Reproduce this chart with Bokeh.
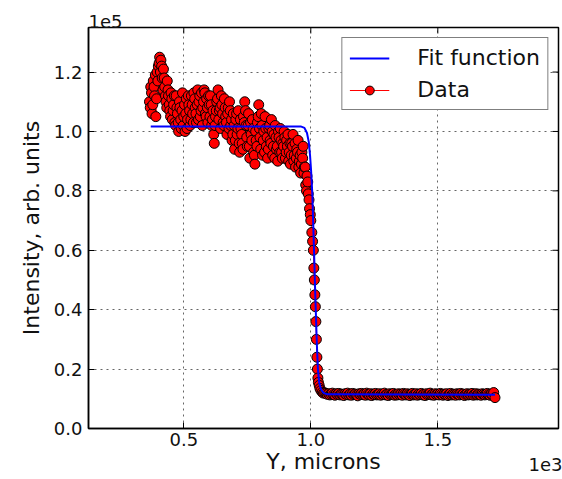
from bokeh.plotting import figure
from bokeh.models import (ColumnDataSource, Range1d, FixedTicker, CustomJSTickFormatter,
                          PrintfTickFormatter, Legend, LegendItem, Title)
from bokeh.embed import file_html
from bokeh.resources import INLINE
import math

# ---- data (x in microns, intensity in units of 1e5) ----
x_plateau = [365, 370, 375, 380, 385, 390, 395, 400, 405, 410, 415, 420, 425, 430, 435, 440,
             445, 450, 455, 460, 465, 470, 475, 480, 485, 490, 495, 500, 505, 510, 515, 520,
             525, 530, 535, 540, 545, 550, 555, 560, 565, 570, 575, 580, 585, 590, 595, 600,
             605, 610, 615, 620, 625, 630, 635, 640, 645, 650, 655, 660, 665, 670, 675, 680,
             685, 690, 695, 700, 705, 710, 715, 720, 725, 730, 735, 740, 745, 750, 755, 760,
             765, 770, 775, 780, 785, 790, 795, 800, 805, 810, 815, 820, 825, 830, 835, 840,
             845, 850, 855, 860, 865, 870, 875, 880, 885, 890, 895, 900, 905, 910, 915, 920,
             925, 930, 935, 940, 945, 950, 955, 960, 965, 970, 975, 980, 985, 990, 995, 1000]
y_plateau = [1.10, 1.15, 1.06, 1.17, 1.12, 1.05, 1.20, 1.22, 1.25, 1.24, 1.18, 1.21, 1.15, 1.10, 1.17, 1.12,
             1.07, 1.13, 1.04, 1.09, 1.03, 1.12, 1.06, 1.00, 1.08, 1.01, 1.13, 1.05, 1.00, 1.11, 1.04, 1.09,
             1.02, 1.12, 1.06, 1.13, 1.08, 1.03, 1.14, 1.10, 1.05, 1.13, 1.08, 1.14, 1.06, 1.11, 1.03, 1.09,
             1.12, 1.02, 1.07, 0.96, 1.05, 1.10, 1.14, 1.07, 1.01, 1.09, 1.03, 1.11, 1.05, 0.99, 1.08, 1.10,
             1.02, 0.97, 1.06, 0.94, 1.04, 0.99, 1.07, 0.93, 1.01, 0.96, 1.05, 1.10, 1.02, 0.95, 1.06, 0.91,
             0.99, 1.04, 0.93, 0.89, 0.97, 1.03, 1.09, 0.98, 1.06, 0.92, 1.00, 1.05, 0.95, 0.91, 1.01, 0.97,
             1.04, 0.92, 0.99, 1.02, 0.94, 0.90, 0.98, 1.01, 0.93, 0.96, 1.00, 0.91, 0.97, 0.99, 0.93, 0.89,
             0.96, 0.99, 0.92, 0.88, 0.94, 0.97, 0.90, 0.86, 0.93, 0.95, 0.88, 0.82, 0.85, 0.79, 0.74, 0.70]

x_plateau_b = [368, 373, 378, 383, 388, 393, 398, 403, 408, 413, 418, 423, 428, 433, 438, 443,
               448, 453, 458, 463, 468, 473, 478, 483, 488, 493, 498, 503, 508, 513, 518, 523,
               528, 533, 538, 543, 548, 553, 558, 563, 568, 573, 578, 583, 588, 593, 598, 603,
               608, 613, 618, 623, 628, 633, 638, 643, 648, 653, 658, 663, 668, 673, 678, 683,
               688, 693, 698, 703, 708, 713, 718, 723, 728, 733, 738, 743, 748, 753, 758, 763,
               768, 773, 778, 783, 788, 793, 798, 803, 808, 813, 818, 823, 828, 833, 838, 843,
               848, 853, 858, 863, 868, 873, 878, 883, 888, 893, 898, 903, 908, 913, 918, 923,
               928, 933, 938, 943, 948, 953, 958, 963, 968, 973, 978, 983, 988, 993, 998]
y_plateau_b = [1.08, 1.13, 1.09, 1.15, 1.19, 1.11, 1.17, 1.23, 1.20, 1.22, 1.14, 1.18, 1.12, 1.08, 1.14, 1.09,
               1.05, 1.11, 1.07, 1.12, 1.02, 1.08, 1.03, 1.10, 1.04, 1.07, 1.02, 1.09, 1.06, 1.01, 1.12, 1.07,
               1.04, 1.09, 1.03, 1.11, 1.06, 1.09, 1.04, 1.12, 1.07, 1.02, 1.10, 1.13, 1.05, 1.08, 1.12, 1.05,
               1.09, 1.04, 0.99, 1.02, 1.07, 1.11, 1.04, 1.08, 1.12, 1.06, 1.02, 1.08, 1.03, 1.06, 1.01, 1.07,
               1.04, 0.99, 1.02, 0.97, 1.06, 1.01, 0.96, 1.04, 0.99, 0.94, 1.03, 1.07, 0.98, 1.02, 0.95, 1.03,
               0.97, 1.01, 0.92, 1.00, 0.95, 1.05, 1.01, 0.94, 1.02, 0.97, 0.93, 1.01, 0.98, 0.94, 1.02, 0.96,
               1.00, 0.95, 0.91, 0.98, 0.95, 1.00, 0.93, 0.97, 0.91, 0.95, 0.98, 0.93, 0.95, 0.90, 0.96, 0.92,
               0.95, 0.90, 0.96, 0.91, 0.93, 0.88, 0.92, 0.89, 0.91, 0.86, 0.88, 0.80, 0.83, 0.77, 0.72]

x_drop = [1004, 1007, 1010, 1012, 1014, 1016, 1018, 1020, 1022, 1024, 1026, 1028, 1030, 1033,
          1036, 1040, 1045, 1050]
y_drop = [0.66, 0.63, 0.60, 0.54, 0.50, 0.45, 0.41, 0.36, 0.30, 0.24, 0.20, 0.17, 0.155, 0.145,
          0.135, 0.128, 0.122, 0.119]

x_floor = [1055, 1060, 1065, 1070, 1075, 1080, 1085, 1090, 1095, 1100, 1105, 1110, 1115, 1120, 1125,
           1130, 1135, 1140, 1145, 1150, 1155, 1160, 1165, 1170, 1175, 1180, 1185, 1190, 1195, 1200,
           1205, 1210, 1215, 1220, 1225, 1230, 1235, 1240, 1245, 1250, 1255, 1260, 1265, 1270, 1275,
           1280, 1285, 1290, 1295, 1300, 1305, 1310, 1315, 1320, 1325, 1330, 1335, 1340, 1345, 1350,
           1355, 1360, 1365, 1370, 1375, 1380, 1385, 1390, 1395, 1400, 1405, 1410, 1415, 1420, 1425,
           1430, 1435, 1440, 1445, 1450, 1455, 1460, 1465, 1470, 1475, 1480, 1485, 1490, 1495, 1500,
           1505, 1510, 1515, 1520, 1525, 1530, 1535, 1540, 1545, 1550, 1555, 1560, 1565, 1570, 1575,
           1580, 1585, 1590, 1595, 1600, 1605, 1610, 1615, 1620, 1625, 1630, 1635, 1640, 1645, 1650,
           1655, 1660, 1665, 1670, 1675, 1680, 1685, 1690, 1695, 1700, 1705, 1710, 1715, 1720, 1725]
y_floor = [0.120, 0.118, 0.115, 0.117, 0.113, 0.116, 0.119, 0.114, 0.112, 0.117, 0.115, 0.118, 0.113, 0.116, 0.114,
           0.111, 0.117, 0.115, 0.119, 0.113, 0.116, 0.112, 0.118, 0.114, 0.116, 0.113, 0.110, 0.117, 0.115, 0.118,
           0.114, 0.116, 0.112, 0.119, 0.115, 0.113, 0.117, 0.111, 0.116, 0.114, 0.118, 0.113, 0.115, 0.117, 0.112,
           0.116, 0.114, 0.119, 0.113, 0.115, 0.111, 0.117, 0.114, 0.116, 0.118, 0.112, 0.115, 0.113, 0.117, 0.114,
           0.116, 0.112, 0.118, 0.115, 0.113, 0.117, 0.114, 0.111, 0.116, 0.118, 0.113, 0.115, 0.117, 0.112, 0.116,
           0.114, 0.118, 0.113, 0.115, 0.111, 0.117, 0.114, 0.116, 0.119, 0.113, 0.115, 0.112, 0.117, 0.114, 0.116,
           0.113, 0.118, 0.115, 0.112, 0.116, 0.114, 0.117, 0.111, 0.115, 0.118, 0.113, 0.116, 0.114, 0.112, 0.117,
           0.115, 0.113, 0.118, 0.114, 0.116, 0.111, 0.115, 0.117, 0.113, 0.116, 0.114, 0.118, 0.112, 0.115, 0.117,
           0.113, 0.116, 0.114, 0.112, 0.117, 0.115, 0.113, 0.116, 0.118, 0.114, 0.112, 0.116, 0.113, 0.121, 0.104]

fit_x = [370, 960, 975, 985, 992, 997, 1001, 1006, 1012, 1018, 1024, 1028, 1033, 1040, 1050, 1065, 1725]
fit_y = [1.017, 1.017, 1.012, 0.995, 0.965, 0.92, 0.87, 0.79, 0.62, 0.44, 0.28, 0.2, 0.155, 0.132,
         0.12, 0.115, 0.114]

x_ticks = [500, 1000, 1500]
y_ticks = [0.0, 0.2, 0.4, 0.6, 0.8, 1.0, 1.2]
x_lim = (125, 1975)
y_lim = (0.0, 1.35)

assert len(x_plateau) == len(y_plateau)
assert len(x_plateau_b) == len(y_plateau_b)
assert len(x_drop) == len(y_drop)
assert len(x_floor) == len(y_floor)
assert len(fit_x) == len(fit_y)

pairs = sorted(zip(x_plateau + x_plateau_b + x_drop + x_floor,
                   y_plateau + y_plateau_b + y_drop + y_floor))
data_src = ColumnDataSource(dict(x=[a for a, b in pairs], y=[b for a, b in pairs]))
fit_src = ColumnDataSource(dict(x=fit_x, y=fit_y))

FONT = "DejaVu Sans"
TXT = "#111111"

p = figure(width=562, height=479, output_backend="svg", toolbar_location=None,
           x_range=Range1d(*x_lim), y_range=Range1d(*y_lim),
           min_border_left=88, min_border_right=4, min_border_top=27, min_border_bottom=51)
p.background_fill_color = "white"
p.border_fill_color = "white"
p.outline_line_color = "black"
p.outline_line_width = 1.5

# offset (exponent) texts as titles
p.title = Title(text="1e5", align="left", text_font=FONT, text_font_size="18px",
                text_font_style="normal", text_color=TXT, standoff=0, offset=0)
p.add_layout(Title(text="1e3", align="right", text_font=FONT, text_font_size="18px",
                   text_font_style="normal", text_color=TXT, standoff=-38, offset=-4,
                   vertical_align="top"), "below")

d_line = p.line("x", "y", source=data_src, line_color="#ff0000", line_width=1)
d_pts = p.scatter("x", "y", source=data_src, marker="circle", size=10,
                  fill_color="#ff0000", line_color="black", line_width=1)
f_line = p.line("x", "y", source=fit_src, line_color="#0000ff", line_width=2)

# inward tick marks on the top and right edges (half of each dash is clipped by the frame)
p.scatter(x=x_ticks, y=[y_lim[1]] * len(x_ticks), marker="dash", angle=math.pi / 2,
          size=12, line_color="black", line_width=1)
p.scatter(x=[x_lim[1]] * len(y_ticks), y=y_ticks, marker="dash",
          size=12, line_color="black", line_width=1)

xt = FixedTicker(ticks=x_ticks)
yt = FixedTicker(ticks=y_ticks)

for ax in [p.xaxis[0], p.yaxis[0]]:
    ax.major_label_text_font = FONT
    ax.major_label_text_font_size = "18px"
    ax.major_label_text_color = TXT
    ax.axis_label_text_font = FONT
    ax.axis_label_text_font_size = "22px"
    ax.axis_label_text_font_style = "normal"
    ax.axis_label_text_color = TXT
    ax.major_tick_in = 6
    ax.major_tick_out = 0
    ax.minor_tick_line_color = None
    ax.axis_line_color = "black"
    ax.axis_line_width = 1.5
    ax.major_tick_line_width = 1

p.xaxis[0].ticker = xt
p.xaxis[0].formatter = CustomJSTickFormatter(code="return (tick/1000).toFixed(1);")
p.xaxis[0].axis_label = "Y, microns"
p.xaxis[0].major_label_standoff = 4
p.xaxis[0].axis_label_standoff = 0
p.yaxis[0].ticker = yt
p.yaxis[0].formatter = PrintfTickFormatter(format="%.1f")
p.yaxis[0].axis_label = "Intensity, arb. units"
p.yaxis[0].major_label_standoff = 6
p.yaxis[0].axis_label_standoff = 7

p.xgrid.ticker = xt
p.ygrid.ticker = yt
p.grid.grid_line_color = "black"
p.grid.grid_line_alpha = 0.6
p.grid.grid_line_dash = "2 4"
p.grid.grid_line_width = 1

legend = Legend(items=[LegendItem(label="Fit function", renderers=[f_line]),
                       LegendItem(label="Data", renderers=[d_line, d_pts])],
                location="top_right", label_text_font=FONT, label_text_font_size="22px",
                label_text_color=TXT,
                border_line_color="black", border_line_width=1.2, glyph_width=40,
                glyph_height=22, label_standoff=28, padding=7, spacing=7, margin=10,
                background_fill_alpha=1.0)
p.add_layout(legend)

open("out.html", "w").write(file_html(p, INLINE))
